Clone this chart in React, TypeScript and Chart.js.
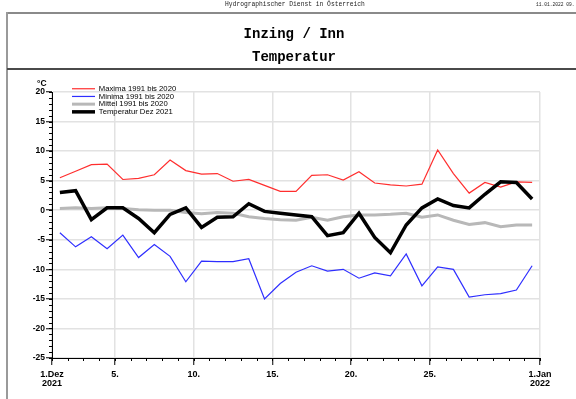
import React, { useEffect, useRef } from 'react';
import { Chart, registerables } from 'chart.js';

Chart.register(...registerables);

// Days of December 2021
const days = [1, 2, 3, 4, 5, 6, 7, 8, 9, 10, 11, 12, 13, 14, 15, 16, 17, 18, 19, 20, 21, 22, 23, 24, 25, 26, 27, 28, 29, 30, 31];

const maxima = [5.5, 6.6, 7.7, 7.8, 5.2, 5.4, 6.0, 8.5, 6.7, 6.1, 6.2, 4.9, 5.2, 4.2, 3.2, 3.2, 5.9, 6.0, 5.1, 6.5, 4.6, 4.3, 4.1, 4.4, 10.2, 6.2, 2.9, 4.7, 3.9, 4.8, 4.7];
const minima = [-3.8, -6.2, -4.5, -6.5, -4.2, -8.0, -5.8, -7.8, -12.1, -8.6, -8.7, -8.7, -8.2, -15.0, -12.4, -10.5, -9.4, -10.3, -10.0, -11.5, -10.6, -11.1, -7.4, -12.8, -9.6, -10.0, -14.7, -14.3, -14.1, -13.5, -9.4];
const mittel = [0.3, 0.4, 0.3, 0.4, 0.3, 0.1, 0.0, 0.0, -0.4, -0.6, -0.4, -0.5, -1.1, -1.4, -1.6, -1.7, -1.2, -1.7, -1.1, -0.8, -0.8, -0.7, -0.5, -1.2, -0.8, -1.7, -2.4, -2.1, -2.8, -2.5, -2.5];
const temperatur = [3.0, 3.3, -1.6, 0.4, 0.4, -1.4, -3.8, -0.7, 0.4, -2.9, -1.2, -1.1, 1.1, -0.2, -0.5, -0.8, -1.1, -4.3, -3.8, -0.5, -4.6, -7.2, -2.5, 0.4, 1.9, 0.8, 0.4, 2.7, 4.8, 4.7, 1.9];

const seriesLabels = ['Maxima 1991 bis 2020', 'Minima 1991 bis 2020', 'Mittel 1991 bis 2020', 'Temperatur Dez 2021'];

// x axis: days elapsed since 1 Dec 00:00
const xTickPositions = [0, 4, 9, 14, 19, 24, 31];
const xTickLabels: (string | string[])[] = [['1.Dez', '2021'], '5.', '10.', '15.', '20.', '25.', ['1.Jan', '2022']];
const yMin = -25;
const yMax = 20;
const yStep = 5;

const headerText = 'Hydrographischer Dienst in Österreich';
const dateText = '11.01.2022 09.';
const titleText = 'Inzing / Inn';
const subtitleText = 'Temperatur';
const unitText = '°C';

const pts = (vals: number[]) => days.map((d, i) => ({ x: d - 0.5, y: vals[i] }));

const minorTicks = {
  id: 'minorTicks',
  afterDraw(chart: any) {
    const { ctx, chartArea } = chart;
    const x = chart.scales.x;
    const y = chart.scales.y;
    ctx.save();
    ctx.strokeStyle = '#000';
    ctx.lineWidth = 1;
    ctx.beginPath();
    for (let d = 0; d <= 31; d++) {
      const px = Math.round(x.getPixelForValue(d)) + 0.5;
      ctx.moveTo(px, chartArea.bottom);
      ctx.lineTo(px, chartArea.bottom + 3);
    }
    for (let v = yMin; v <= yMax; v++) {
      const py = Math.round(y.getPixelForValue(v)) + 0.5;
      ctx.moveTo(chartArea.left - 3, py);
      ctx.lineTo(chartArea.left, py);
    }
    ctx.stroke();
    ctx.restore();
  },
};

const legendPos = {
  id: 'legendPos',
  afterLayout(chart: any) {
    const l = chart.legend;
    if (!l) return;
    l.left = 72;
    l.top = 84.9;
    l.right = 72 + 200;
    l.bottom = 84.9 + 40;
  },
};

export default function App() {
  const ref = useRef<HTMLCanvasElement>(null);

  useEffect(() => {
    if (!ref.current) return;
    const chart = new Chart(ref.current, {
      type: 'line',
      data: {
        datasets: [
          { label: seriesLabels[0], data: pts(maxima), borderColor: '#ff2e2e', backgroundColor: '#ff2e2e', borderWidth: 1.2, pointRadius: 0, order: 3 },
          { label: seriesLabels[1], data: pts(minima), borderColor: '#2e2eff', backgroundColor: '#2e2eff', borderWidth: 1.2, pointRadius: 0, order: 2 },
          { label: seriesLabels[2], data: pts(mittel), borderColor: '#b8b8b8', backgroundColor: '#b8b8b8', borderWidth: 3, pointRadius: 0, order: 1 },
          { label: seriesLabels[3], data: pts(temperatur), borderColor: '#000000', backgroundColor: '#000000', borderWidth: 3.5, pointRadius: 0, order: 0 },
        ],
      },
      options: {
        responsive: false,
        animation: false,
        layout: { padding: { left: 0, top: 92, right: 36, bottom: 0 } },
        elements: { line: { tension: 0 } },
        plugins: {
          tooltip: { enabled: false },
          title: { display: false },
          legend: {
            display: true,
            position: 'chartArea' as any,
            align: 'start',
            labels: {
              usePointStyle: true,
              pointStyle: 'line',
              pointStyleWidth: 23,
              boxHeight: 7.7,
              padding: 0,
              color: '#000',
              font: { family: 'Liberation Sans', size: 7.7 },
              sort: (a: any, b: any) => a.datasetIndex - b.datasetIndex,
            },
          },
        },
        scales: {
          x: {
            type: 'linear',
            min: 0,
            max: 31,
            afterBuildTicks: (s: any) => {
              s.ticks = xTickPositions.map((v) => ({ value: v }));
            },
            afterFit: (s: any) => {
              s.height = 41;
            },
            ticks: {
              autoSkip: false,
              maxRotation: 0,
              minRotation: 0,
              padding: 5,
              color: '#000',
              font: { family: 'Liberation Sans', size: 9, weight: 'bold', lineHeight: 1 },
              callback: (v: any) => xTickLabels[xTickPositions.indexOf(Number(v))] as any,
            },
            grid: { color: '#e2e2e2', lineWidth: 1.5, tickLength: 7, tickColor: '#000', tickWidth: 1 },
            border: { color: '#000', width: 1 },
          },
          y: {
            type: 'linear',
            min: yMin,
            max: yMax,
            afterFit: (s: any) => {
              s.width = 52;
            },
            ticks: {
              stepSize: yStep,
              padding: 1,
              color: '#000',
              font: { family: 'Liberation Sans', size: 8.5, weight: 'bold' },
            },
            grid: { color: '#e2e2e2', lineWidth: 1.5, tickLength: 6, tickColor: '#000', tickWidth: 1 },
            border: { color: '#000', width: 1 },
          },
        },
      },
      plugins: [minorTicks, legendPos],
    } as any);
    return () => chart.destroy();
  }, []);

  const mono = '"Liberation Mono", "Courier New", monospace';
  return (
    <div style={{ position: 'fixed', left: 0, top: 0, width: 576, height: 399, background: '#fff', overflow: 'hidden' }}>
      <canvas ref={ref} width={576} height={399} style={{ position: 'absolute', left: 0, top: 0, width: 576, height: 399 }} />
      <div style={{ position: 'absolute', left: 0, width: 590, top: 0, height: 10, lineHeight: '10px', textAlign: 'center', fontFamily: mono, fontSize: 6.3, color: '#222', whiteSpace: 'nowrap' }}>{headerText}</div>
      <div style={{ position: 'absolute', left: 536, top: 0, height: 10, lineHeight: '10px', fontFamily: mono, fontSize: 4.6, color: '#222', whiteSpace: 'nowrap' }}>{dateText}</div>
      <div style={{ position: 'absolute', left: 7, top: 12, width: 569, height: 2, background: '#8a8a8a' }} />
      <div style={{ position: 'absolute', left: 6, top: 12, width: 2, height: 387, background: '#9a9a9a' }} />
      <div style={{ position: 'absolute', left: 7, top: 68, width: 569, height: 2, background: '#4a4a4a' }} />
      <div style={{ position: 'absolute', left: 0, width: 588, top: 24, height: 20, lineHeight: '20px', textAlign: 'center', fontFamily: mono, fontSize: 14, fontWeight: 'bold', color: '#000', whiteSpace: 'nowrap' }}>{titleText}</div>
      <div style={{ position: 'absolute', left: 0, width: 588, top: 47, height: 20, lineHeight: '20px', textAlign: 'center', fontFamily: mono, fontSize: 14, fontWeight: 'bold', color: '#000', whiteSpace: 'nowrap' }}>{subtitleText}</div>
      <div style={{ position: 'absolute', left: 37, top: 78, height: 11, lineHeight: '11px', fontFamily: '"Liberation Sans", Arial, sans-serif', fontSize: 8.5, fontWeight: 'bold', color: '#000', whiteSpace: 'nowrap' }}>{unitText}</div>
    </div>
  );
}
